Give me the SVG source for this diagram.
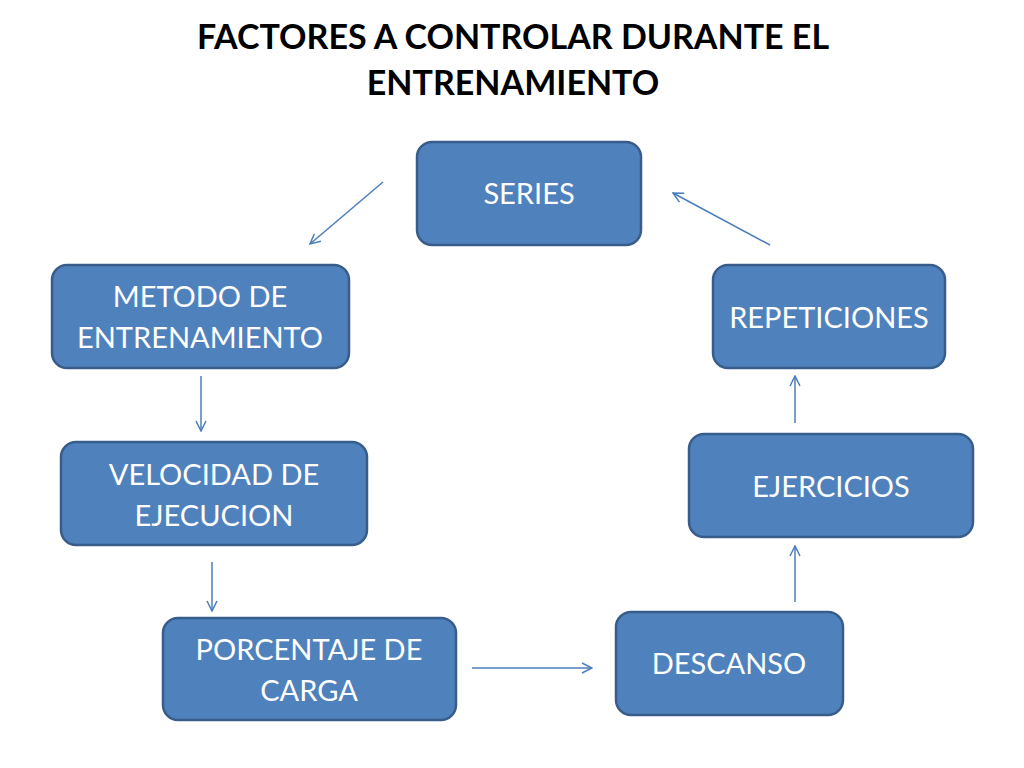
<svg xmlns="http://www.w3.org/2000/svg" width="1024" height="768" viewBox="0 0 1024 768">
<defs>
<style>
.box{fill:#4F81BD;stroke:#385D8A;stroke-width:2.5}
.t{font-family:Lato,"Open Sans","Liberation Sans",sans-serif;font-size:29px;fill:#FFFFFF;text-anchor:middle}
.title{font-family:Lato,"Open Sans","Liberation Sans",sans-serif;font-size:34px;font-weight:bold;fill:#000000;text-anchor:middle}
.c{stroke:#4A7EBB;stroke-width:1.5;fill:none;marker-end:url(#ah)}
</style>
<marker id="ah" viewBox="0 0 12 12" refX="11" refY="6" markerWidth="12" markerHeight="12" markerUnits="userSpaceOnUse" orient="auto">
<path d="M1,1 L11,6 L1,11" fill="none" stroke="#4A7EBB" stroke-width="1.5"/>
</marker>
</defs>
<rect width="1024" height="768" fill="#FFFFFF"/>
<g id="title">
<text class="title" x="513" y="49">FACTORES A CONTROLAR DURANTE EL</text>
<text class="title" x="513" y="95">ENTRENAMIENTO</text>
</g>
<g id="connectors">
<line class="c" x1="383" y1="182" x2="310" y2="244"/>
<line class="c" x1="770" y1="245" x2="673" y2="193"/>
<line class="c" x1="201" y1="376" x2="201" y2="431"/>
<line class="c" x1="212" y1="562" x2="212" y2="611"/>
<line class="c" x1="472" y1="668" x2="592" y2="668"/>
<line class="c" x1="795" y1="602" x2="795" y2="546"/>
<line class="c" x1="795" y1="423" x2="795" y2="376"/>
</g>
<g id="series">
<rect class="box" x="417" y="142" width="224" height="103" rx="15"/>
<text class="t" x="529" y="204">SERIES</text>
</g>
<g id="metodo">
<rect class="box" x="52" y="265" width="297" height="103" rx="15"/>
<text class="t" x="200" y="307">METODO DE</text>
<text class="t" x="200" y="348">ENTRENAMIENTO</text>
</g>
<g id="repeticiones">
<rect class="box" x="713" y="265" width="232" height="103" rx="15"/>
<text class="t" x="829" y="328">REPETICIONES</text>
</g>
<g id="velocidad">
<rect class="box" x="61" y="442" width="306" height="103" rx="15"/>
<text class="t" x="214" y="485">VELOCIDAD DE</text>
<text class="t" x="214" y="526">EJECUCION</text>
</g>
<g id="ejercicios">
<rect class="box" x="689" y="434" width="284" height="103" rx="15"/>
<text class="t" x="831" y="497">EJERCICIOS</text>
</g>
<g id="porcentaje">
<rect class="box" x="163" y="618" width="293" height="102" rx="15"/>
<text class="t" x="309" y="660">PORCENTAJE DE</text>
<text class="t" x="309" y="701">CARGA</text>
</g>
<g id="descanso">
<rect class="box" x="616" y="612" width="227" height="103" rx="15"/>
<text class="t" x="729" y="674">DESCANSO</text>
</g>
</svg>
